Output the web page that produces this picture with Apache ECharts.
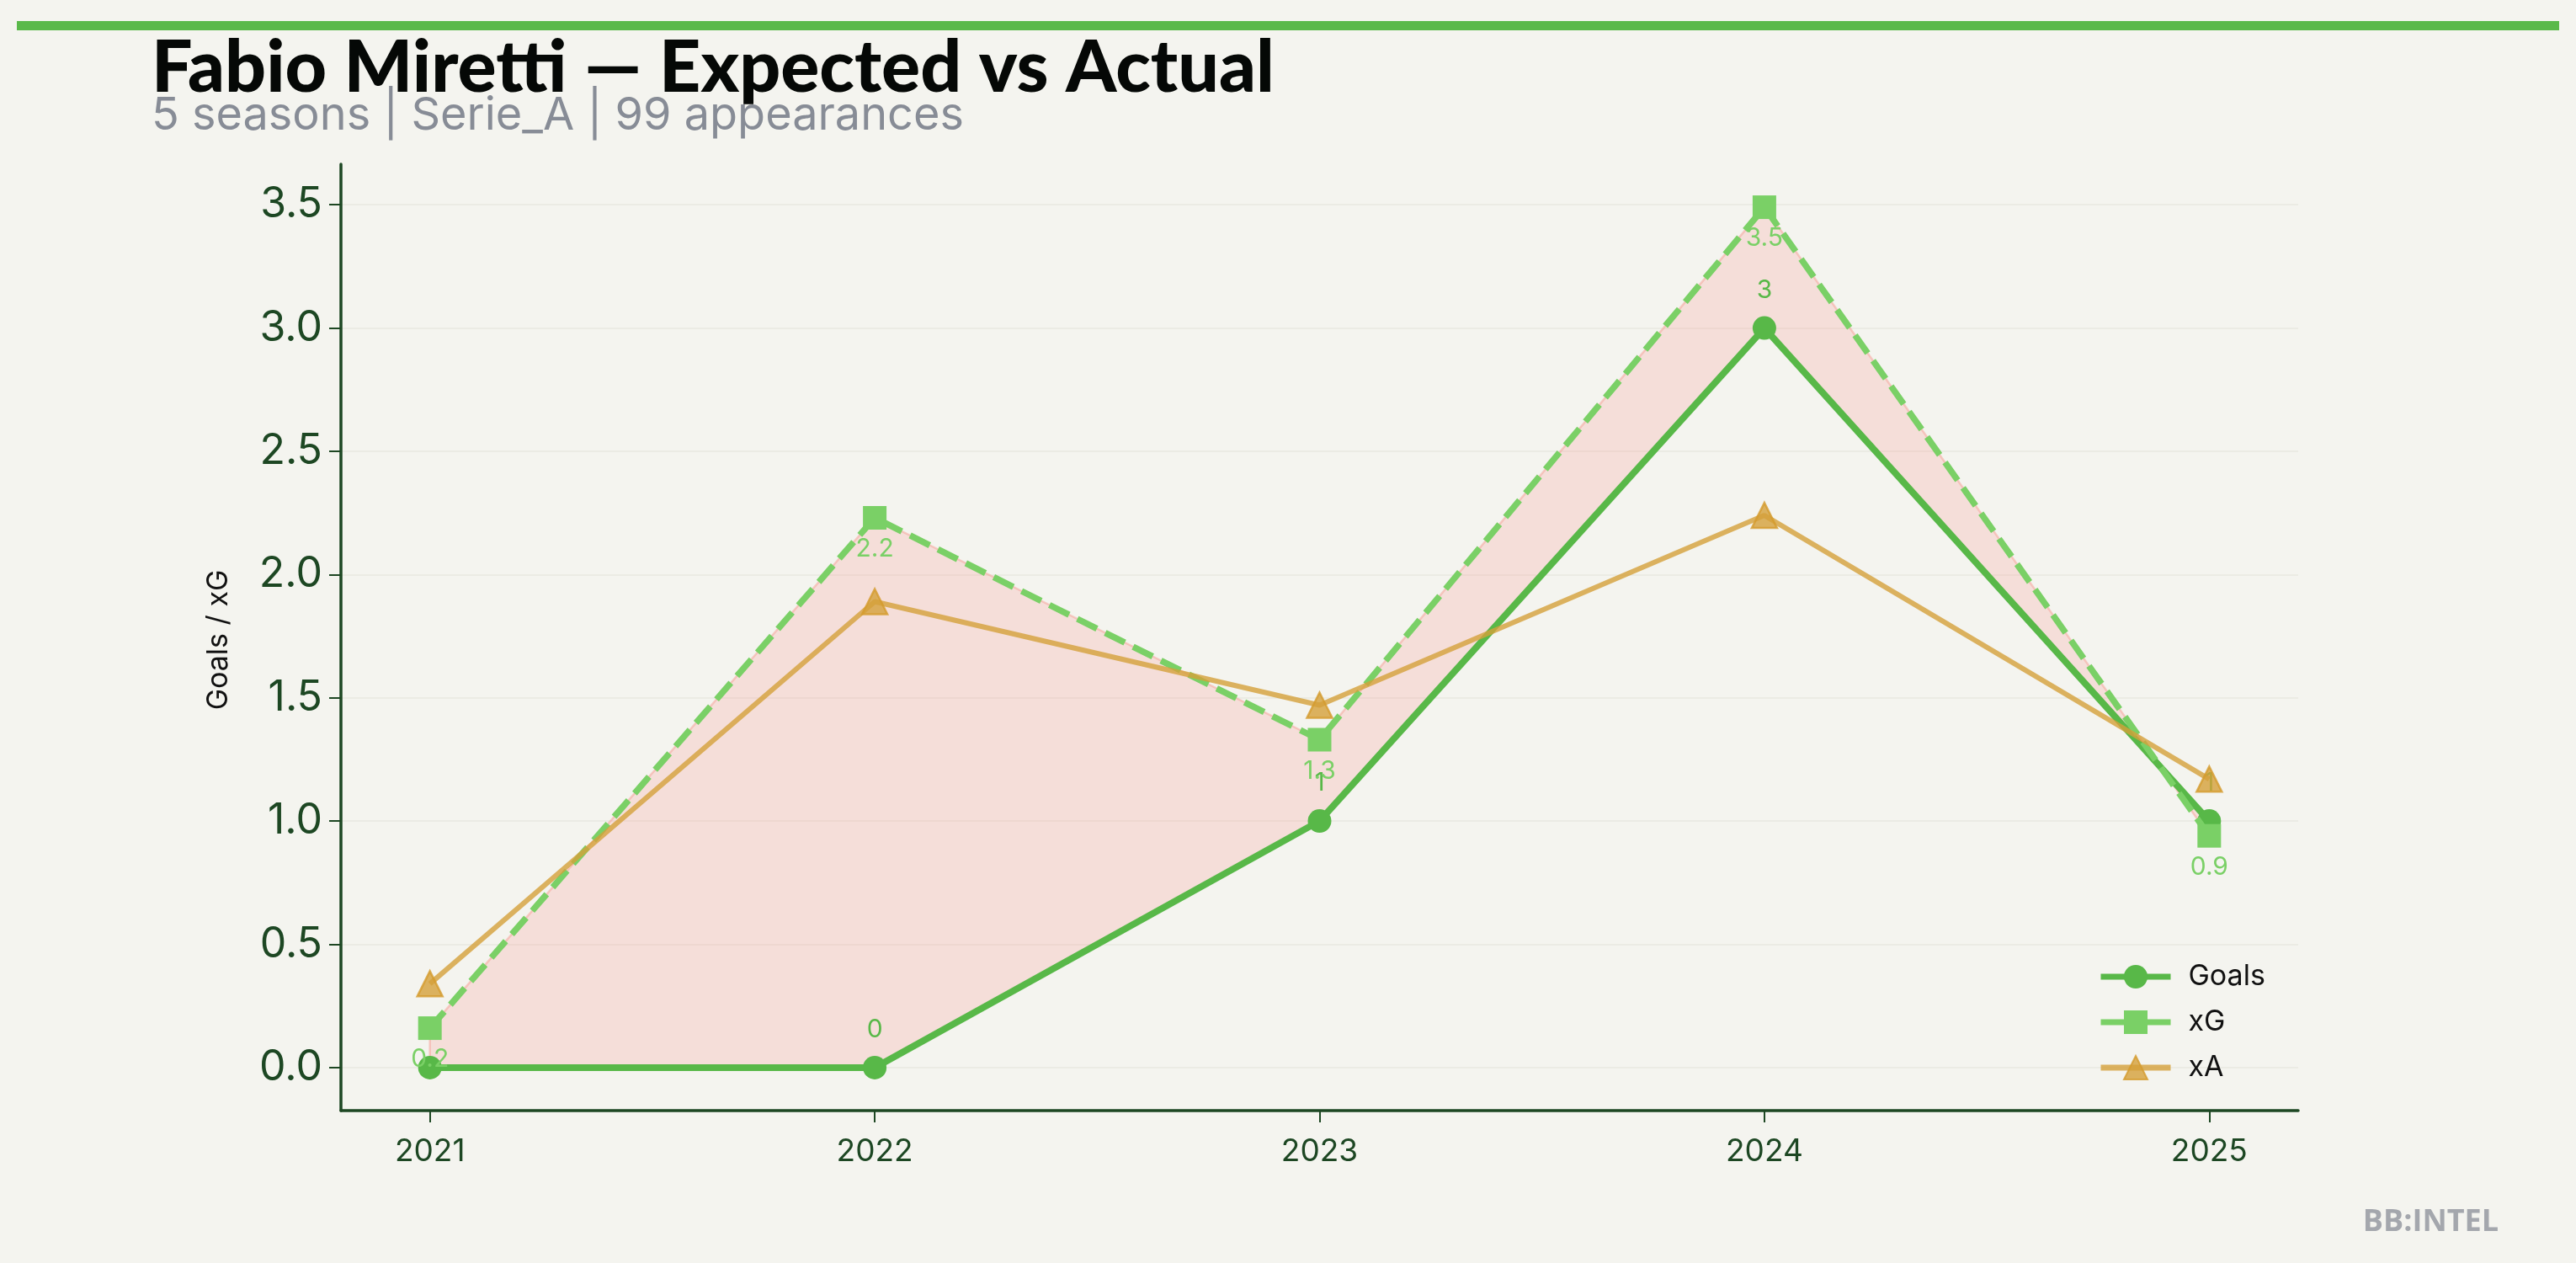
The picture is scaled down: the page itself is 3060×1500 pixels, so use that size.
<!DOCTYPE html>
<html><head><meta charset="utf-8">
<script src="https://cdn.jsdelivr.net/npm/echarts@6/dist/echarts.min.js"></script>
<style>html,body{margin:0;padding:0;background:#f4f4ef;} #c{width:3060px;height:1500px;}</style>
</head><body><div id="c"></div>
<script>
const seasons = [2021, 2022, 2023, 2024, 2025];
const goals = [0, 0, 1, 3, 1];
const xG = [0.16, 2.23, 1.33, 3.49, 0.94];
const xA = [0.34, 1.89, 1.47, 2.24, 1.17];
const yTicks = [0, 0.5, 1, 1.5, 2, 2.5, 3, 3.5];
const seriesNames = ['Goals', 'xG', 'xA'];
const titleText = 'Fabio Miretti \u2014 Expected vs Actual';
const subtitleText = '5 seasons | Serie_A | 99 appearances';
const yAxisTitle = 'Goals / xG';
const watermark = 'BB:INTEL';

const C_GOALS = '#58b848', C_XG = '#7ad066', C_XA = 'rgba(212,160,58,0.8)';
const AXIS_C = '#1d4723';

const allY = goals.concat(xG, xA);
const yLo = Math.min(...allY), yHi = Math.max(...allY), yPad = (yHi - yLo) * 0.05;
const xLo = seasons[0], xHi = seasons[seasons.length - 1], xPad = (xHi - xLo) * 0.05;

const pts = arr => seasons.map((s, i) => [s, arr[i]]);

function renderGap(params, api) {
  if (params.dataIndex !== 0) return null;
  const upper = seasons.map((s, i) => api.coord([s, xG[i]]));
  const lower = seasons.map((s, i) => api.coord([s, goals[i]])).reverse();
  return {
    type: 'polygon',
    shape: {points: upper.concat(lower)},
    style: {fill: 'rgba(255,99,92,0.15)', stroke: 'rgba(245,160,150,0.5)', lineWidth: 2.5},
    silent: true
  };
}

const chart = echarts.init(document.getElementById('c'), null, {renderer: 'canvas'});
chart.setOption({
  backgroundColor: '#f4f4ef',
  animation: false,
  grid: {left: 405, right: 330, top: 195, bottom: 181, containLabel: false},
  xAxis: {
    type: 'value', min: xLo - xPad, max: xHi + xPad,
    axisLine: {show: true, onZero: false, lineStyle: {color: AXIS_C, width: 3.5}},
    axisTick: {show: true, customValues: seasons, length: 14, lineStyle: {color: AXIS_C, width: 2}},
    axisLabel: {customValues: seasons, formatter: v => String(v), fontSize: 37, color: AXIS_C, margin: 30, fontFamily: 'Inter'},
    splitLine: {show: false}
  },
  yAxis: {
    type: 'value', min: yLo - yPad, max: yHi + yPad,
    axisLine: {show: true, onZero: false, lineStyle: {color: AXIS_C, width: 3.5}},
    axisTick: {show: true, customValues: yTicks, length: 14, lineStyle: {color: AXIS_C, width: 2}},
    axisLabel: {customValues: yTicks, formatter: v => v.toFixed(1), fontSize: 50, color: AXIS_C, margin: 22, fontFamily: 'Inter'},
    splitLine: {show: true, lineStyle: {color: '#ebebe4', width: 2}}
  },
  legend: {
    data: seriesNames, orient: 'vertical', left: 2487, top: 1138,
    itemWidth: 83, itemHeight: 35, itemGap: 20,
    textStyle: {fontSize: 34, color: '#111', fontFamily: 'Inter', padding: [0, 0, 0, 16]},
    lineStyle: {type: 'solid', width: 7}
  },
  graphic: [
    {type: 'rect', shape: {x: 20, y: 25, width: 3020, height: 11}, style: {fill: '#5ab94a'}},
    {type: 'text', x: 180, y: 81, style: {text: titleText, font: '900 86px Lato', fill: '#050806', verticalAlign: 'middle'}},
    {type: 'text', x: 180, y: 138, style: {text: subtitleText, font: '400 54px Inter', fill: '#878c96', verticalAlign: 'middle'}},
    {type: 'text', x: 260, y: 760, rotation: Math.PI / 2, style: {text: yAxisTitle, font: '400 34px Inter', fill: '#111', align: 'center', verticalAlign: 'middle'}},
    {type: 'text', right: 92, top: 1434, style: {text: watermark, font: '700 36px "Open Sans"', fill: '#a4a7ad'}}
  ],
  series: [
    {type: 'custom', name: 'gap', data: pts(xG), renderItem: renderGap, silent: true, z: 1, clip: true},
    {type: 'line', name: 'Goals', data: pts(goals), z: 3, symbol: 'circle', symbolSize: 28,
     lineStyle: {color: C_GOALS, width: 8}, itemStyle: {color: C_GOALS},
     label: {show: true, position: 'top', distance: 16, fontSize: 30, color: C_GOALS, fontFamily: 'Inter', formatter: p => String(p.value[1])}},
    {type: 'line', name: 'xG', data: pts(xG), z: 4, symbol: 'rect', symbolSize: 28,
     lineStyle: {color: C_XG, width: 7.5, type: [26, 11]}, itemStyle: {color: C_XG},
     label: {show: true, position: 'bottom', distance: 8, fontSize: 30, color: C_XG, fontFamily: 'Inter', formatter: p => p.value[1].toFixed(1)}},
    {type: 'line', name: 'xA', data: pts(xA), z: 5, symbol: 'triangle', symbolSize: 30,
     lineStyle: {color: C_XA, width: 6}, itemStyle: {color: C_XA, borderColor: 'rgba(212,155,45,0.8)', borderWidth: 2.5}}
  ]
});
</script></body></html>
